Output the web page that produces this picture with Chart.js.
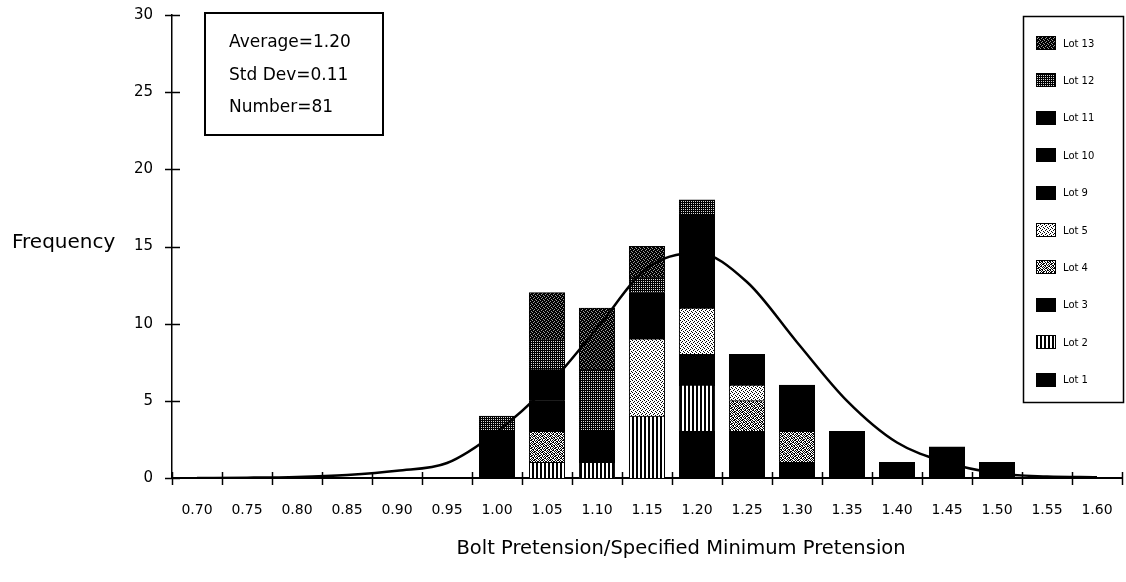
<!DOCTYPE html>
<html>
<head>
<meta charset="utf-8">
<script src="https://cdn.jsdelivr.net/npm/chart.js@4.4.0/dist/chart.umd.min.js"></script>
<style>
  html, body { margin: 0; padding: 0; background: #fff; }
  #wrap { width: 1126px; height: 582px; position: relative; }
</style>
</head>
<body>
<div id="wrap"><canvas id="c" width="1126" height="582"></canvas></div>
<script>
// Bins of bolt pretension / specified minimum pretension
const categories = ['0.70','0.75','0.80','0.85','0.90','0.95','1.00','1.05','1.10','1.15',
                    '1.20','1.25','1.30','1.35','1.40','1.45','1.50','1.55','1.60'];

// Counts per bin for each lot (stacked bottom to top: Lot 1 ... Lot 13)
const lot1  = [0,0,0,0,0,0,0,0,0,0,3,3,1,3,0,2,0,0,0];
const lot2  = [0,0,0,0,0,0,0,1,1,4,3,0,0,0,0,0,0,0,0];
const lot3  = [0,0,0,0,0,0,0,0,2,0,2,0,0,0,0,0,0,0,0];
const lot4  = [0,0,0,0,0,0,0,2,0,0,0,2,2,0,0,0,0,0,0];
const lot5  = [0,0,0,0,0,0,0,0,0,5,3,1,0,0,0,0,0,0,0];
const lot9  = [0,0,0,0,0,0,0,0,0,3,2,0,0,0,1,0,0,0,0];
const lot10 = [0,0,0,0,0,0,3,2,0,0,2,0,3,0,0,0,0,0,0];
const lot11 = [0,0,0,0,0,0,0,2,0,0,2,2,0,0,0,0,1,0,0];
const lot12 = [0,0,0,0,0,0,1,2,4,1,1,0,0,0,0,0,0,0,0];
const lot13 = [0,0,0,0,0,0,0,3,4,2,0,0,0,0,0,0,0,0,0];

// Fitted normal curve, read at each bin
const normalCurve = [0.0,0.02,0.07,0.2,0.47,0.97,3.0,5.9,9.7,13.6,14.6,12.7,8.8,5.0,2.3,1.0,0.3,0.1,0.05];

const yTicks = [0,5,10,15,20,25,30];
const statLines = ['Average=1.20', 'Std Dev=0.11', 'Number=81'];
const axisTitleX = 'Bolt Pretension/Specified Minimum Pretension';
const axisTitleY = 'Frequency';

const FONT = "'DejaVu Sans', sans-serif";
Chart.defaults.font.family = FONT;
Chart.defaults.color = '#000';

// ---- fill textures ----
function makePattern(w, h, pixel) {
  const c = document.createElement('canvas');
  c.width = w; c.height = h;
  const g = c.getContext('2d');
  for (let y = 0; y < h; y++) {
    for (let x = 0; x < w; x++) {
      g.fillStyle = pixel(x, y);
      g.fillRect(x, y, 1, 1);
    }
  }
  return g.createPattern(c, 'repeat');
}
const ctx = document.getElementById('c').getContext('2d');

const speckleBits = [
  '10110010', '01001101', '11010100', '00101011',
  '10010110', '01101001', '10100101', '01011010'
];
const isDiagDot = (x, y) => (x === 0 && y === 0) || (x === 2 && y === 1) || (x === 1 && y === 2) || (x === 3 && y === 3);
const fills = {
  solid: '#000',
  stripes: makePattern(4, 1, x => (x < 2 ? '#000' : '#fff')),
  speckle: makePattern(8, 8, (x, y) => (speckleBits[y][x] === '1' ? '#000' : '#fff')),
  stipple: makePattern(4, 4, (x, y) => (isDiagDot(x, y) ? '#000' : '#fff')),
  grid: makePattern(2, 2, (x, y) => (x === 1 && y === 1 ? '#d8d8d8' : '#000')),
  darkDots: makePattern(4, 4, (x, y) => (isDiagDot(x, y) ? '#9a9a9a' : '#000'))
};

const lots = [
  { label: 'Lot 1',  data: lot1,  fill: fills.solid },
  { label: 'Lot 2',  data: lot2,  fill: fills.stripes },
  { label: 'Lot 3',  data: lot3,  fill: fills.solid },
  { label: 'Lot 4',  data: lot4,  fill: fills.speckle },
  { label: 'Lot 5',  data: lot5,  fill: fills.stipple },
  { label: 'Lot 9',  data: lot9,  fill: fills.solid },
  { label: 'Lot 10', data: lot10, fill: fills.solid },
  { label: 'Lot 11', data: lot11, fill: fills.solid },
  { label: 'Lot 12', data: lot12, fill: fills.grid },
  { label: 'Lot 13', data: lot13, fill: fills.darkDots }
];

const barSets = lots.map(l => ({
  type: 'bar',
  label: l.label,
  data: l.data.map(v => (v === 0 ? null : v)),
  backgroundColor: l.fill,
  borderColor: '#000',
  borderWidth: 1,
  inflateAmount: 0.6,
  barPercentage: 0.7,
  categoryPercentage: 1.0,
  stack: 'lots',
  order: 1
}));

const curveSet = {
  type: 'line',
  label: 'Normal',
  data: normalCurve,
  borderColor: '#000',
  borderWidth: 2.5,
  pointRadius: 0,
  tension: 0.4,
  cubicInterpolationMode: 'monotone',
  fill: false,
  stack: 'curve',
  order: 0
};

// Cross-shaped tick marks on both axes
const crossTicks = {
  id: 'crossTicks',
  afterDraw(chart) {
    const g = chart.ctx;
    const xs = chart.scales.x, ys = chart.scales.y;
    g.save();
    g.strokeStyle = '#000';
    g.lineWidth = 1.5;
    const n = categories.length;
    const step = (xs.right - xs.left) / n;
    const yAxis = ys.getPixelForValue(0);
    for (let i = 0; i <= n; i++) {
      const x = Math.round(xs.left + i * step) + 0.5;
      g.beginPath(); g.moveTo(x, yAxis - 6); g.lineTo(x, yAxis + 7); g.stroke();
    }
    yTicks.forEach(v => {
      const y = Math.round(ys.getPixelForValue(v)) + 0.5;
      g.beginPath(); g.moveTo(xs.left - 7, y); g.lineTo(xs.left + 8, y); g.stroke();
    });
    g.restore();
  }
};

// Statistics box, axis titles and the lot key
const annotations = {
  id: 'annotations',
  afterDraw(chart) {
    const g = chart.ctx;
    g.save();
    // stats box
    g.fillStyle = '#fff';
    g.fillRect(205, 13, 178, 122);
    g.strokeStyle = '#000';
    g.lineWidth = 2;
    g.strokeRect(205, 13, 178, 122);
    g.fillStyle = '#000';
    g.font = '17px ' + FONT;
    g.textAlign = 'left';
    g.textBaseline = 'middle';
    const rows = [43, 76, 108];
    statLines.forEach((t, i) => g.fillText(t, 229, rows[i]));

    // y title
    g.font = '20px ' + FONT;
    g.fillText(axisTitleY, 12, 243);

    // x title
    g.textAlign = 'center';
    g.font = '19.5px ' + FONT;
    g.fillText(axisTitleX, 681, 549);

    // key
    g.fillStyle = '#fff';
    g.fillRect(1023, 16, 101, 387);
    g.lineWidth = 1.5;
    g.strokeRect(1023.5, 16.5, 100, 386);
    const sets = chart.data.datasets.filter(d => d.type === 'bar').slice().reverse();
    g.font = '10px ' + FONT;
    g.textAlign = 'left';
    sets.forEach((d, i) => {
      const cy = 43 + i * 37.4;
      g.fillStyle = d.backgroundColor;
      g.fillRect(1036, Math.round(cy - 7), 20, 14);
      g.strokeStyle = '#000';
      g.lineWidth = 1;
      g.strokeRect(1036.5, Math.round(cy - 7) + 0.5, 19, 13);
      g.fillStyle = '#000';
      g.fillText(d.label, 1063, cy + 1);
    });
    g.restore();
  }
};

new Chart(ctx, {
  type: 'bar',
  data: { labels: categories, datasets: [...barSets, curveSet] },
  options: {
    responsive: false,
    animation: false,
    layout: { padding: { left: 0, right: 4, top: 15, bottom: 0 } },
    plugins: { legend: { display: false }, tooltip: { enabled: false }, title: { display: false } },
    scales: {
      x: {
        stacked: true,
        offset: true,
        grid: { display: false, offset: true, drawTicks: true, tickLength: 24 },
        border: { display: true, color: '#000', width: 2 },
        ticks: { color: '#000', font: { size: 14 }, padding: 0, maxRotation: 0, autoSkip: false },
        afterFit: s => { s.height = 104; }
      },
      y: {
        stacked: true,
        min: 0,
        max: 30,
        afterBuildTicks: s => { s.ticks = yTicks.map(v => ({ value: v })); },
        grid: { display: false, drawTicks: true, tickLength: 19 },
        border: { display: true, color: '#000', width: 1.5 },
        ticks: { color: '#000', font: { size: 15 }, padding: 0 },
        afterFit: s => { s.width = 172; }
      }
    }
  },
  plugins: [crossTicks, annotations]
});
</script>
</body>
</html>
